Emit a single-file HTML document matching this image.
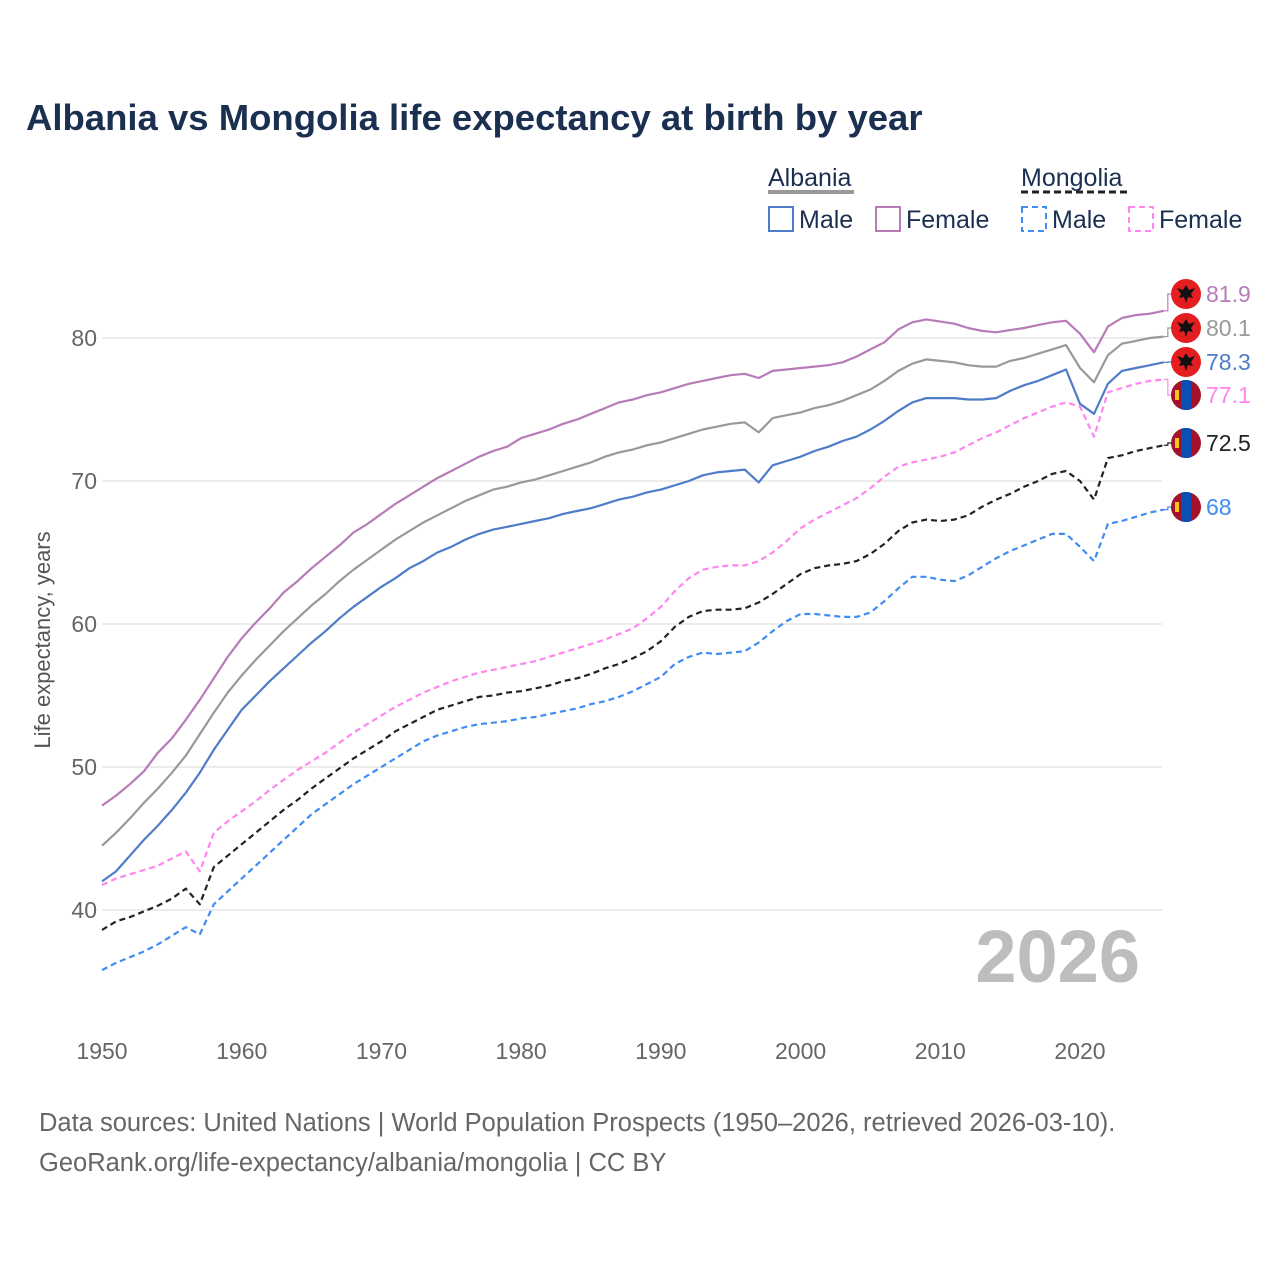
<!DOCTYPE html>
<html><head><meta charset="utf-8">
<style>
body{margin:0;background:#fff;}
svg text{font-family:"Liberation Sans",sans-serif;}
</style></head>
<body>
<svg id="chart" width="1280" height="1280" viewBox="0 0 1280 1280" xmlns="http://www.w3.org/2000/svg">
<rect width="1280" height="1280" fill="#fff"/>
<text x="26" y="130" font-size="36.5" font-weight="bold" fill="#1b3050">Albania vs Mongolia life expectancy at birth by year</text>
<g font-size="25" fill="#1b3050">
  <text x="768" y="186">Albania</text>
  <line x1="768" y1="192" x2="854" y2="192" stroke="#999" stroke-width="4"/>
  <text x="1021" y="186">Mongolia</text>
  <line x1="1021" y1="192" x2="1128" y2="192" stroke="#222" stroke-width="3" stroke-dasharray="7,4"/>
  <g><rect x="769" y="207" width="24" height="24" fill="none" stroke="#4f7cc9" stroke-width="2"/><text x="799" y="228">Male</text></g>
  <g><rect x="876" y="207" width="24" height="24" fill="none" stroke="#b77bb8" stroke-width="2"/><text x="906" y="228">Female</text></g>
  <g><rect x="1022" y="207" width="24" height="24" fill="none" stroke="#3f8cf5" stroke-width="2" stroke-dasharray="6,4"/><text x="1052" y="228">Male</text></g>
  <g><rect x="1129" y="207" width="24" height="24" fill="none" stroke="#ff85f0" stroke-width="2" stroke-dasharray="6,4"/><text x="1159" y="228">Female</text></g>
</g>
<g id="grid"></g>
<g id="axes"></g>
<text transform="translate(50,640) rotate(-90)" text-anchor="middle" font-size="22" fill="#555">Life expectancy, years</text>
<text x="1140" y="982" text-anchor="end" font-size="74" font-weight="bold" fill="#bdbdbd">2026</text>
<g id="series"></g>
<g id="endlabels"></g>
<text x="39" y="1131" font-size="25.5" fill="#666">Data sources: United Nations | World Population Prospects (1950–2026, retrieved 2026-03-10).</text>
<text x="39" y="1171" font-size="25.5" fill="#666">GeoRank.org/life-expectancy/albania/mongolia | CC BY</text>
</svg>
<script>
const years = [];
for (let y = 1950; y <= 2026; y++) years.push(y);
const yTicks = [40, 50, 60, 70, 80];
const xTicks = [1950, 1960, 1970, 1980, 1990, 2000, 2010, 2020];
const alF = [47.3,48.0,48.8,49.7,51.0,52.0,53.3,54.7,56.2,57.7,59.0,60.1,61.1,62.2,63.0,63.9,64.7,65.5,66.4,67.0,67.7,68.4,69.0,69.6,70.2,70.7,71.2,71.7,72.1,72.4,73.0,73.3,73.6,74.0,74.3,74.7,75.1,75.5,75.7,76.0,76.2,76.5,76.8,77.0,77.2,77.4,77.5,77.2,77.7,77.8,77.9,78.0,78.1,78.3,78.7,79.2,79.7,80.6,81.1,81.3,81.15,81.0,80.7,80.5,80.4,80.55,80.7,80.9,81.1,81.2,80.3,79.0,80.8,81.4,81.6,81.7,81.9];
const alB = [44.5,45.4,46.4,47.5,48.5,49.6,50.8,52.3,53.8,55.2,56.4,57.5,58.5,59.5,60.4,61.3,62.1,63.0,63.8,64.5,65.2,65.9,66.5,67.1,67.6,68.1,68.6,69.0,69.4,69.6,69.9,70.1,70.4,70.7,71.0,71.3,71.7,72.0,72.2,72.5,72.7,73.0,73.3,73.6,73.8,74.0,74.1,73.4,74.4,74.6,74.8,75.1,75.3,75.6,76.0,76.4,77.0,77.7,78.2,78.5,78.4,78.3,78.1,78.0,78.0,78.4,78.6,78.9,79.2,79.5,77.9,76.9,78.8,79.6,79.8,80.0,80.1];
const alM = [42.0,42.7,43.8,44.9,45.9,47.0,48.2,49.6,51.2,52.6,54.0,55.0,56.0,56.9,57.8,58.7,59.5,60.4,61.2,61.9,62.6,63.2,63.9,64.4,65.0,65.4,65.9,66.3,66.6,66.8,67.0,67.2,67.4,67.7,67.9,68.1,68.4,68.7,68.9,69.2,69.4,69.7,70.0,70.4,70.6,70.7,70.8,69.9,71.1,71.4,71.7,72.1,72.4,72.8,73.1,73.6,74.2,74.9,75.5,75.8,75.8,75.8,75.7,75.7,75.8,76.3,76.7,77.0,77.4,77.8,75.4,74.7,76.8,77.7,77.9,78.1,78.3];
const mnF = [41.75,42.2,42.5,42.8,43.1,43.6,44.1,42.7,45.4,46.2,46.9,47.6,48.4,49.1,49.8,50.4,51.0,51.7,52.4,53.0,53.6,54.2,54.7,55.2,55.6,56.0,56.3,56.6,56.8,57.0,57.2,57.4,57.7,58.0,58.3,58.6,58.9,59.3,59.7,60.4,61.2,62.3,63.2,63.8,64.0,64.1,64.1,64.4,65.0,65.8,66.7,67.3,67.8,68.3,68.8,69.5,70.3,71.0,71.3,71.5,71.7,72.0,72.5,73.0,73.4,73.9,74.4,74.8,75.2,75.5,75.2,73.1,76.2,76.5,76.8,77.0,77.1];
const mnB = [38.6,39.2,39.5,39.9,40.3,40.8,41.5,40.4,43.0,43.8,44.6,45.4,46.2,47.0,47.7,48.5,49.2,49.9,50.6,51.2,51.8,52.5,53.0,53.5,54.0,54.3,54.6,54.9,55.0,55.2,55.3,55.5,55.7,56.0,56.2,56.5,56.9,57.2,57.6,58.1,58.8,59.8,60.5,60.9,61.0,61.0,61.1,61.5,62.1,62.8,63.5,63.9,64.1,64.2,64.4,64.9,65.6,66.5,67.1,67.3,67.2,67.3,67.6,68.2,68.7,69.1,69.6,70.0,70.5,70.7,70.0,68.7,71.6,71.8,72.1,72.3,72.5];
const mnM = [35.8,36.3,36.7,37.1,37.6,38.2,38.8,38.3,40.4,41.3,42.2,43.1,44.0,44.9,45.8,46.7,47.4,48.1,48.8,49.4,50.0,50.6,51.2,51.8,52.2,52.5,52.8,53.0,53.1,53.2,53.4,53.5,53.7,53.9,54.1,54.4,54.6,54.9,55.3,55.8,56.3,57.2,57.7,58.0,57.9,58.0,58.1,58.7,59.5,60.2,60.7,60.7,60.6,60.5,60.5,60.8,61.6,62.5,63.3,63.3,63.1,63.0,63.4,64.0,64.6,65.1,65.5,65.9,66.3,66.3,65.4,64.4,67.0,67.2,67.5,67.8,68.0];
const labelValues = ["81.9","80.1","78.3","77.1","72.5","68"];

const NS = "http://www.w3.org/2000/svg";
const X = y => 102 + (y - 1950) * (1080 - 102) / 70;
const Y = v => 338 + (80 - v) * 14.3;
function mk(tag, attrs, parent){const e=document.createElementNS(NS,tag);for(const k in attrs)e.setAttribute(k,attrs[k]);parent.appendChild(e);return e;}

const grid = document.getElementById('grid');
const axes = document.getElementById('axes');
yTicks.forEach(t=>{
  const l = mk('line',{x1:102,x2:1162,y1:Y(t),y2:Y(t),stroke:'#e6e6e6','stroke-width':1.5},grid);
  
  
  const tx = mk('text',{x:97,y:Y(t)+8,'text-anchor':'end','font-size':23,fill:'#666'},axes);
  tx.textContent = t;
  
  
});
xTicks.forEach(t=>{
  const tx = mk('text',{x:X(t),y:1059,'text-anchor':'middle','font-size':23,fill:'#666'},axes);
  tx.textContent = t;
  
  
});

const seriesDefs = [
  {name:'albania-female', data:alF, color:'#b77bb8', dash:null, flag:'al', ly:294},
  {name:'albania-both', data:alB, color:'#999999', dash:null, flag:'al', ly:328},
  {name:'albania-male', data:alM, color:'#4f7cc9', dash:null, flag:'al', ly:362},
  {name:'mongolia-female', data:mnF, color:'#ff85f0', dash:'6,4', flag:'mn', ly:395},
  {name:'mongolia-both', data:mnB, color:'#222222', dash:'6,4', flag:'mn', ly:443},
  {name:'mongolia-male', data:mnM, color:'#3f8cf5', dash:'6,4', flag:'mn', ly:507}
];
const sg = document.getElementById('series');
const eg = document.getElementById('endlabels');
seriesDefs.forEach((s,i)=>{
  const d = s.data.map((v,j)=>(j?'L':'M')+X(years[j]).toFixed(1)+','+Y(v).toFixed(1)).join(' ');
  const p = mk('path',{d:d,fill:'none',stroke:s.color,'stroke-width':2.2,'stroke-linejoin':'round'},sg);
  if(s.dash) p.setAttribute('stroke-dasharray',s.dash);
  
  
  const last = s.data[s.data.length-1];
  const ex = X(years[years.length-1]), ey = Y(last);
  const c = mk('path',{d:`M${ex},${ey} H${ex+4} V${s.ly} H1172`,fill:'none',stroke:s.color,'stroke-width':1.2},eg);
  
  
  const g = mk('g',{},eg);
  
  
  const cx=1186, cy=s.ly;
  if(s.flag==='al'){
    mk('circle',{cx:cx,cy:cy,r:15,fill:'#e41e20'},g);
    mk('path',{d:`M${cx},${cy-9} L${cx+3},${cy-4} L${cx+9},${cy-6} L${cx+5},${cy} L${cx+7},${cy+4} L${cx+2},${cy+3} L${cx},${cy+9} L${cx-2},${cy+3} L${cx-7},${cy+4} L${cx-5},${cy} L${cx-9},${cy-6} L${cx-3},${cy-4} Z`,fill:'#111'},g);
  } else {
    const id='clip'+i;
    const cp = mk('clipPath',{id:id},g); mk('circle',{cx:cx,cy:cy,r:15},cp);
    const gg = mk('g',{'clip-path':`url(#${id})`},g);
    mk('rect',{x:cx-15,y:cy-15,width:30,height:30,fill:'#a3122a'},gg);
    mk('rect',{x:cx-5,y:cy-15,width:10,height:30,fill:'#0a4fb4'},gg);
    mk('rect',{x:cx-11,y:cy-5,width:4,height:10,fill:'#f5c518'},gg);
  }
  const t = mk('text',{x:1206,y:s.ly+8,'font-size':23,fill:s.color},eg);
  t.textContent = labelValues[i];
  
  
});
</script>
</body></html>
